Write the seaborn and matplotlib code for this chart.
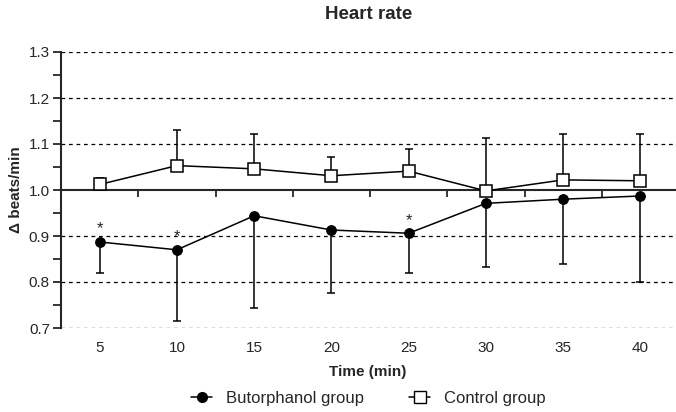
import numpy as np
import pandas as pd
import matplotlib
matplotlib.use("Agg")
import matplotlib.pyplot as plt
import seaborn as sns

sns.set_style("white")
plt.rcParams["font.family"] = ["Liberation Sans", "DejaVu Sans"]

# Data
time_min = [5, 10, 15, 20, 25, 30, 35, 40]
butorphanol_mean = [0.887, 0.870, 0.944, 0.913, 0.906, 0.971, 0.980, 0.987]
butorphanol_low = [0.819, 0.715, 0.743, 0.777, 0.820, 0.832, 0.839, 0.799]
control_mean = [1.012, 1.053, 1.046, 1.031, 1.041, 0.998, 1.022, 1.020]
control_high = [1.027, 1.130, 1.122, 1.072, 1.089, 1.114, 1.122, 1.122]
significant = [5, 10, 25]

df = pd.DataFrame({
    "time": time_min * 2,
    "value": butorphanol_mean + control_mean,
    "group": ["Butorphanol group"] * 8 + ["Control group"] * 8,
})

fig = plt.figure(figsize=(6.76, 4.12), dpi=100)
ax = fig.add_axes([61 / 676, 84 / 412, 615 / 676, 276 / 412])

# one-sided error bars (drawn first so markers sit on top)
b_mean = np.array(butorphanol_mean)
c_mean = np.array(control_mean)
ax.errorbar(time_min, b_mean, yerr=[b_mean - np.array(butorphanol_low), np.zeros(8)],
            fmt="none", ecolor="black", elinewidth=1.1, capsize=3, capthick=1.1, zorder=2)
ax.errorbar(time_min, c_mean, yerr=[np.zeros(8), np.array(control_high) - c_mean],
            fmt="none", ecolor="black", elinewidth=1.1, capsize=3, capthick=1.1, zorder=2)

sns.lineplot(data=df, x="time", y="value", hue="group", style="group",
             palette={"Butorphanol group": "black", "Control group": "black"},
             markers={"Butorphanol group": "o", "Control group": "s"},
             dashes=False, linewidth=1.1, markersize=7, ax=ax, legend=False, zorder=3)
for ln in ax.get_lines():
    if ln.get_marker() == "s":
        ln.set_markerfacecolor("white")
        ln.set_markeredgecolor("black")
        ln.set_markersize(8)
        ln.set_markeredgewidth(1.1)
    elif ln.get_marker() == "o":
        ln.set_markerfacecolor("black")
        ln.set_markeredgecolor("black")

# significance stars
for t in significant:
    ax.text(t, butorphanol_mean[time_min.index(t)] + 0.012, "*", ha="center", va="bottom",
            fontsize=12)

# dashed gridlines
for yv in [0.7, 0.8, 0.9, 1.1, 1.2, 1.3]:
    ax.axhline(yv, color="black", linestyle=(0, (3, 3)), linewidth=0.9, zorder=1)

ax.set_xlim(2.5, 42.3)
ax.set_ylim(0.7, 1.3)
ax.set_yticks([0.7, 0.8, 0.9, 1.0, 1.1, 1.2, 1.3])
ax.set_yticks(np.arange(0.75, 1.3, 0.1), minor=True)
ax.yaxis.set_major_formatter(plt.FormatStrFormatter("%.1f"))
ax.tick_params(axis="y", which="major", direction="out", length=6, width=1.3,
               labelsize=11, pad=2, left=True)
ax.tick_params(axis="y", which="minor", direction="out", length=6, width=1.3, left=True)

# x axis line sits at y = 1.0, ticks between categories
for s in ["top", "right"]:
    ax.spines[s].set_visible(False)
ax.spines["left"].set_linewidth(1.5)
ax.spines["bottom"].set_position(("data", 1.0))
ax.spines["bottom"].set_linewidth(1.5)
ax.set_xticks([7.5, 12.5, 17.5, 22.5, 27.5, 32.5, 37.5])
ax.set_xticklabels([])
ax.tick_params(axis="x", direction="out", length=5, width=1.3, bottom=True)

sec = ax.secondary_xaxis(0.0)
sec.set_xticks(time_min)
sec.set_xticklabels([str(t) for t in time_min])
sec.tick_params(length=0, labelsize=11, pad=9)
sec.spines["bottom"].set_visible(False)

ax.set_xlabel("")
ax.set_ylabel("Δ beats/min", fontsize=11, fontweight="semibold", labelpad=4)
ax.set_title("Heart rate", fontsize=13.5, fontweight="bold", pad=24)
fig.text(368 / 676, 1 - 372 / 412, "Time (min)", ha="center", va="center",
         fontsize=11, fontweight="semibold")

handles = [
    plt.Line2D([], [], color="black", marker="o", markersize=7, linewidth=1.1,
               markerfacecolor="black"),
    plt.Line2D([], [], color="black", marker="s", markersize=8, linewidth=1.1,
               markerfacecolor="white", markeredgecolor="black"),
]
fig.legend(handles, ["Butorphanol group", "Control group"], loc="center",
           bbox_to_anchor=(368 / 676, 1 - 398 / 412), ncol=2, frameon=False,
           fontsize=12, handlelength=1.3, handletextpad=0.8, columnspacing=2.7)

fig.savefig("out.png", dpi=100)
